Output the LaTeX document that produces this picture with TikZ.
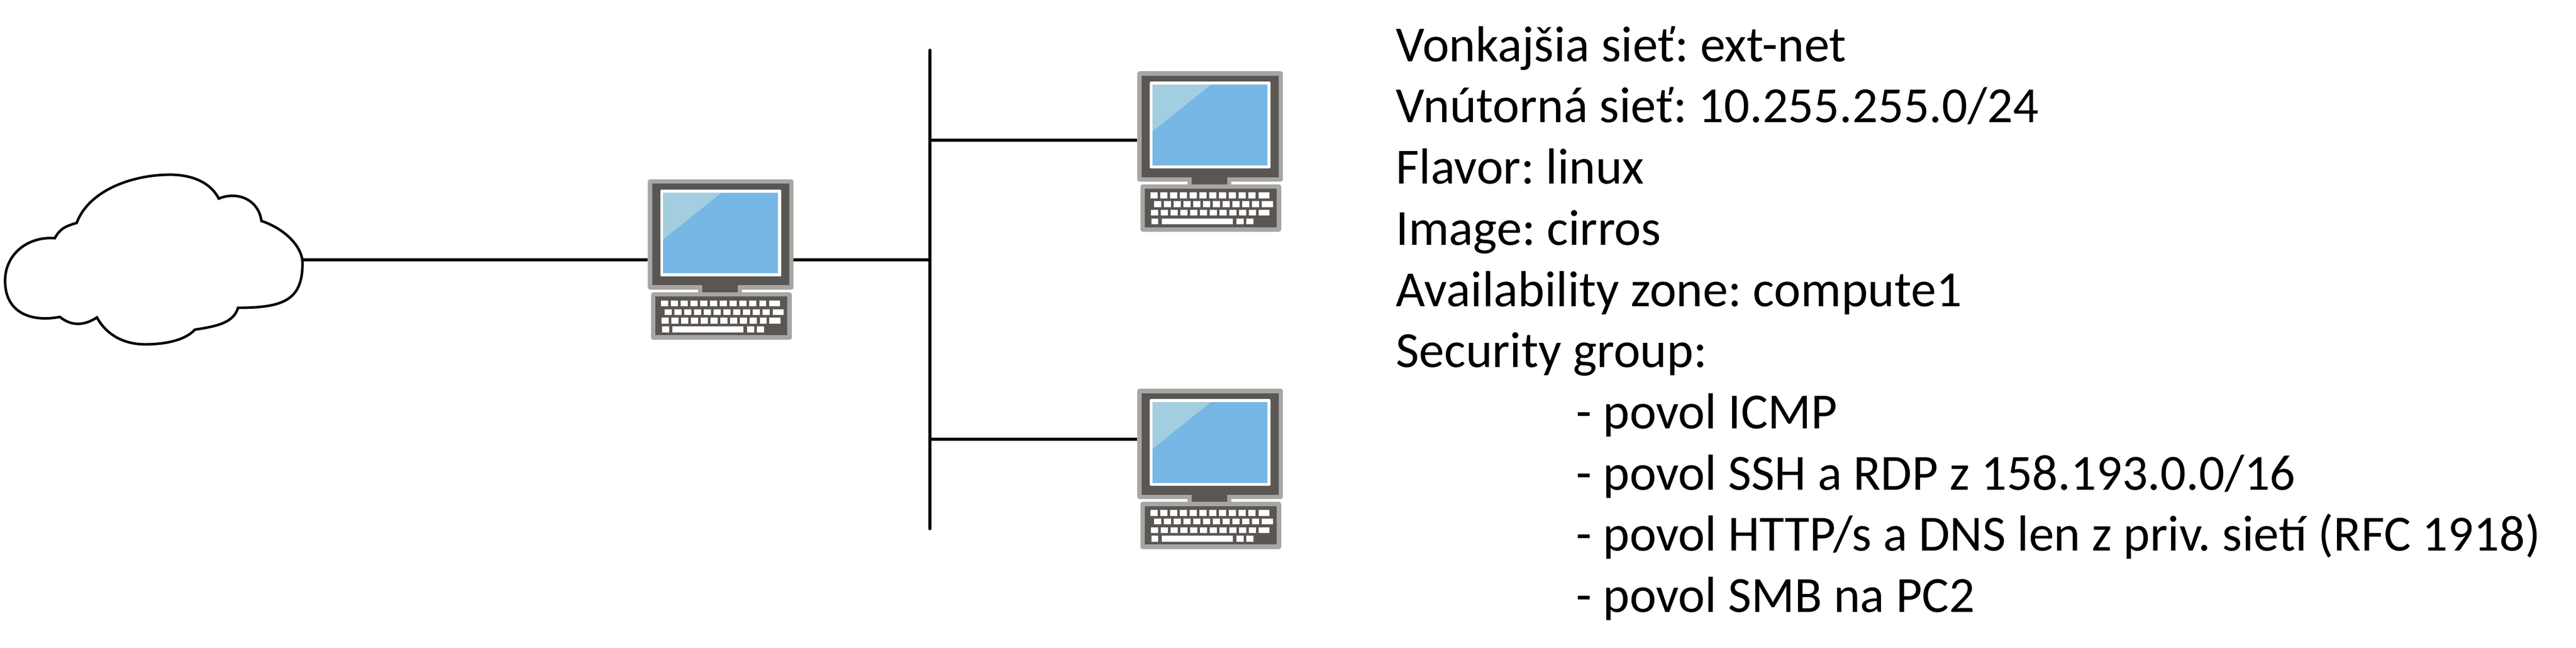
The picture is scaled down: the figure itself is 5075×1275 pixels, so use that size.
\documentclass[tikz,border=0pt]{standalone}
\usepackage{fontspec}
\setmainfont{Carlito}
\frenchspacing
\definecolor{pcgray}{HTML}{A7A6A4}
\definecolor{pcdark}{HTML}{5A5653}
\definecolor{pcblue}{HTML}{76B7E6}
\definecolor{pclight}{HTML}{A3CEE0}
\tikzset{
  x=0.2pt,y=-0.2pt,
  wire/.style={line width=1.26pt,line cap=round,draw=black},
  cloudline/.style={line width=1pt,line join=miter,draw=black,fill=white},
  label/.style={anchor=base west,inner sep=0pt,outer sep=0pt,font=\fontsize{19.95pt}{24pt}\selectfont,text=black},
  computer/.pic={
    \coordinate (-w) at (0,158.7);
    \coordinate (-e) at (287,158.7);
    \fill[pcgray,rounded corners=0.9pt] (0,0) rectangle (287,217.3);
    \fill[pcgray] (98.7,200) rectangle (185.3,230);
    \fill[pcdark] (8.7,8.7) rectangle (278.7,208.7);
    \fill[pcdark] (107,200) rectangle (177,223);
    \fill[white,rounded corners=0.5pt] (24.7,20.3) rectangle (262.7,191.3);
    \fill[pcblue] (30.3,26.3) rectangle (256.7,185.3);
    \fill[pclight] (30.3,26.3) -- (145.3,26.3) -- (30.3,118.3) -- cycle;
    \fill[pcgray,rounded corners=0.9pt] (6.3,222.7) rectangle (283.7,316);
    \fill[pcdark] (15,231) rectangle (275,307);
    \foreach \i in {0,...,10} {
      \fill[white] ({26+19.33*\i},238.7) rectangle ++(14,11.6);
      \fill[white] ({33+19.33*\i},255.7) rectangle ++(14,11.6);
      \fill[white] ({27+19.33*\i},272.7) rectangle ++(14,11.6);
    }
    \fill[white] (238.7,238.7) rectangle ++(21.6,11.6);
    \fill[white] (245.7,255.7) rectangle ++(21.6,11.6);
    \fill[white] (239.3,272.7) rectangle ++(21.6,11.6);
    \fill[white] (27.7,289.7) rectangle ++(14,11.6);
    \fill[white] (48.7,289.7) rectangle ++(140,11.6);
    \fill[white] (195.7,289.7) rectangle ++(14,11.6);
    \fill[white] (215,289.7) rectangle ++(14,11.6);
  }
}
\begin{document}
\begin{tikzpicture}
\useasboundingbox (0,0) rectangle (5075,1275);
% named connection points
\coordinate (cloudE) at (596,511.7);
\coordinate (busTop) at (1832,99);
\coordinate (busBot) at (1832,1041);
\coordinate (busA) at (1832,276);
\coordinate (busB) at (1832,511.7);
\coordinate (busC) at (1832,864.7);
% cloud
\draw[cloudline]
  (151,439) .. controls (175,375) and (260,344) .. (335,344)
  .. controls (380,344) and (415,360) .. (431,391)
  .. controls (470,375) and (510,395) .. (515,435)
  .. controls (560,450) and (596,485) .. (596,518)
  .. controls (596,590) and (560,606) .. (469,606)
  .. controls (460,635) and (430,642) .. (384,649)
  .. controls (365,670) and (325,678) .. (286,678)
  .. controls (245,678) and (210,660) .. (191,625)
  .. controls (165,642) and (140,642) .. (118,624)
  .. controls (60,635) and (10,615) .. (10,553)
  .. controls (10,500) and (55,465) .. (108,469)
  .. controls (118,450) and (130,445) .. (151,439) -- cycle;
% computers
\pic (pcA) at (1276.3,353) {computer};
\pic (pcB) at (2240.4,140.3) {computer};
\pic (pcC) at (2240.4,765.3) {computer};
% connectors
\draw[wire,line cap=butt] (cloudE) -- (pcA-w);
\draw[wire,line cap=butt] (pcA-e) -- (busB);
\draw[wire] (busTop) -- (busBot);
\draw[wire,line cap=butt] (busA) -- (pcB-w |- busA);
\draw[wire,line cap=butt] (busC) -- (pcC-w |- busC);
% text
\node[label] (t1) at (2750,121) {Vonkajšia sieť: ext-net};
\node[label] (t2) at (2750,241.5) {Vnútorná sieť: 10.255.255.0/24};
\node[label] (t3) at (2750,362) {Flavor: linux};
\node[label] (t4) at (2750,482.5) {Image: cirros};
\node[label] (t5) at (2750,603) {Availability zone: compute1};
\node[label] (t6) at (2750,723.5) {Security group:};
\node[label] (t7) at (3105,844) {- povol ICMP};
\node[label] (t8) at (3105,964.5) {- povol SSH a RDP z 158.193.0.0/16};
\node[label] (t9) at (3105,1085) {- povol HTTP/s a DNS len z priv. sietí (RFC 1918)};
\node[label] (t10) at (3105,1205.5) {- povol SMB na PC2};
\end{tikzpicture}
\end{document}
